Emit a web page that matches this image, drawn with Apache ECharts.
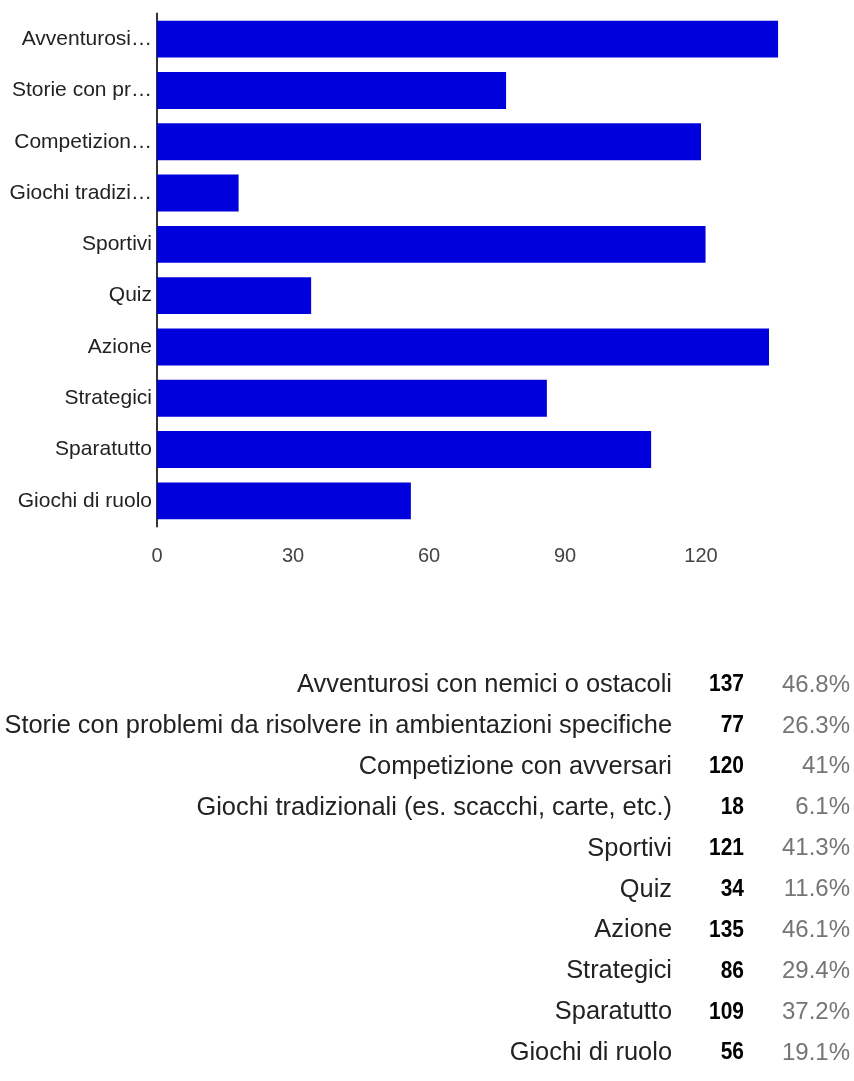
<!DOCTYPE html>
<html>
<head>
<meta charset="utf-8">
<script src="https://cdn.jsdelivr.net/npm/echarts@6/dist/echarts.min.js"></script>
<style>
html,body{margin:0;padding:0;background:#fff;}
#chart{width:854px;height:1081px;}
</style>
</head>
<body>
<div id="chart"></div>
<script>
const categories = [
  "Avventurosi con nemici o ostacoli",
  "Storie con problemi da risolvere in ambientazioni specifiche",
  "Competizione con avversari",
  "Giochi tradizionali (es. scacchi, carte, etc.)",
  "Sportivi",
  "Quiz",
  "Azione",
  "Strategici",
  "Sparatutto",
  "Giochi di ruolo"
];
const counts = [137, 77, 120, 18, 121, 34, 135, 86, 109, 56];
const percents = ["46.8%", "26.3%", "41%", "6.1%", "41.3%", "11.6%", "46.1%", "29.4%", "37.2%", "19.1%"];
const xTicks = [0, 30, 60, 90, 120];

const FONT = '"Liberation Sans", Arial, sans-serif';
const LABEL_FONT_SIZE = 21;
const LABEL_MAX_W = 146;

const measureCanvas = document.createElement('canvas').getContext('2d');
measureCanvas.font = LABEL_FONT_SIZE + 'px ' + FONT;
function fitLabel(t) {
  if (measureCanvas.measureText(t).width <= LABEL_MAX_W) return t;
  let best = '';
  for (let i = 1; i <= t.length; i++) {
    const cand = t.slice(0, i).replace(/\s+$/, '') + '\u2026';
    if (measureCanvas.measureText(cand).width <= LABEL_MAX_W) best = cand; else break;
  }
  return best;
}

const chart = echarts.init(document.getElementById('chart'), null, {renderer: 'canvas'});

const rowTop = 685;
const rowStep = 40.9;
const graphics = [];
categories.forEach((c, i) => {
  const y = rowTop + i * rowStep;
  graphics.push({
    type: 'text', silent: true,
    style: {text: c, x: 672, y: y, align: 'right', verticalAlign: 'middle',
      font: '25.4px ' + FONT, fill: '#222'}
  });
  graphics.push({
    type: 'text', silent: true, x: 744, y: y, scaleX: 0.91,
    style: {text: String(counts[i]), x: 0, y: 0, align: 'right', verticalAlign: 'middle',
      font: 'bold 23px ' + FONT, fill: '#000'}
  });
  graphics.push({
    type: 'text', silent: true,
    style: {text: percents[i], x: 850, y: y, align: 'right', verticalAlign: 'middle',
      font: '24px ' + FONT, fill: '#757575'}
  });
});

chart.setOption({
  animation: false,
  backgroundColor: '#fff',
  grid: {left: 157, top: 13.5, height: 513, right: 17, containLabel: false},
  xAxis: {
    type: 'value', min: 0, max: 150, interval: 30,
    axisLine: {show: false}, axisTick: {show: false}, splitLine: {show: false},
    axisLabel: {
      show: true, margin: 20, color: '#444', fontFamily: FONT, fontSize: 20,
      showMaxLabel: false,
      formatter: function (v) { return xTicks.indexOf(v) >= 0 ? String(v) : ''; }
    }
  },
  yAxis: {
    type: 'category', inverse: true, data: categories,
    axisLine: {show: true, lineStyle: {color: '#333', width: 2}},
    axisTick: {show: false},
    axisLabel: {margin: 5, color: '#222', fontFamily: FONT, fontSize: LABEL_FONT_SIZE,
      formatter: fitLabel}
  },
  series: [{
    type: 'bar', data: counts, barCategoryGap: '28%',
    itemStyle: {color: '#0000DC'}, z: 1
  }],
  graphic: graphics
});
</script>
</body>
</html>
